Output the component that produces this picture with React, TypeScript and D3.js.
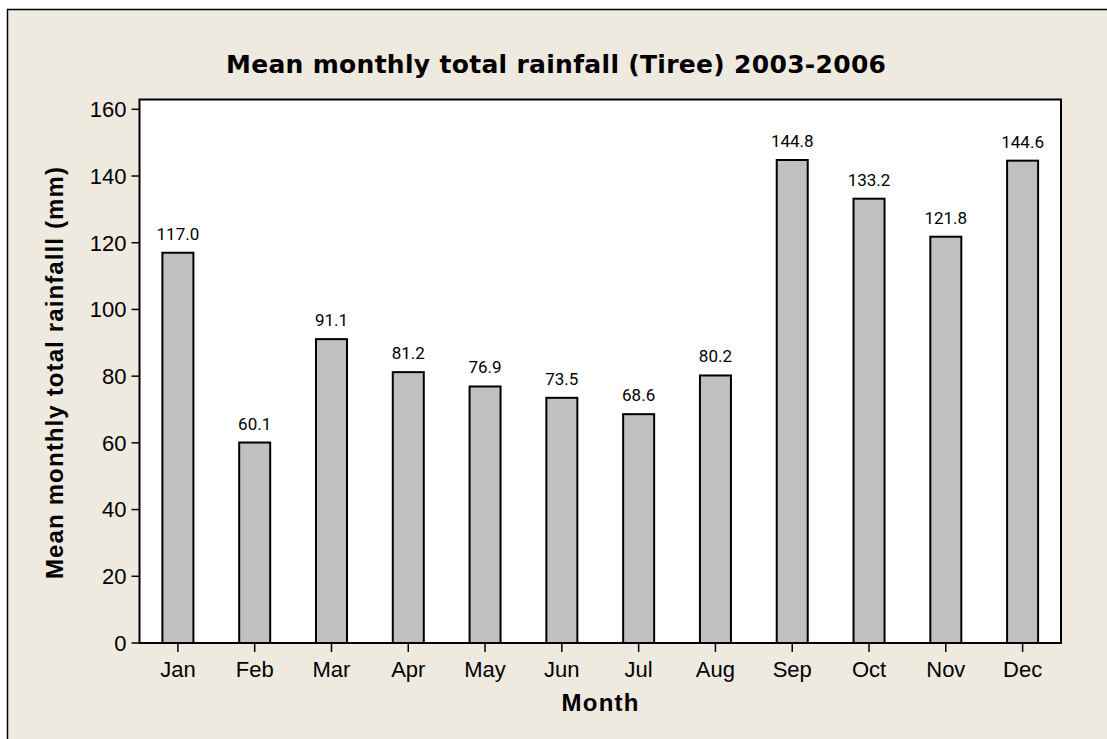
import React from "react";
import * as d3 from "d3";

const months = ["Jan","Feb","Mar","Apr","May","Jun","Jul","Aug","Sep","Oct","Nov","Dec"];
const rainfall = [117.0,60.1,91.1,81.2,76.9,73.5,68.6,80.2,144.8,133.2,121.8,144.6];
const yTicks = [0,20,40,60,80,100,120,140,160];
const title = "Mean monthly total rainfall (Tiree) 2003-2006";
const xTitle = "Month";
const yTitle = "Mean monthly total rainfalll (mm)";

const W = 1107, H = 739;
const plot = { left: 139.5, top: 99.5, right: 1061, bottom: 643 };

export default function App() {
  const x = d3.scaleBand<string>().domain(months).range([plot.left, plot.right]).padding(0);
  const y = d3.scaleLinear().domain([0, 160]).range([plot.bottom, 109.3]);
  const bw = 31;
  const font = "'Liberation Sans', Arial, sans-serif";
  return (
    <svg width={W} height={H} style={{ position: "absolute", left: 0, top: 0 }}>
      <rect x={0} y={0} width={W} height={H} fill="#ffffff" />
      <rect x={7} y={9} width={W} height={H} fill="#EEEAE0" />
      <line x1={7} y1={9.5} x2={W} y2={9.5} stroke="#000" strokeWidth={1.5} />
      <line x1={7.5} y1={9} x2={7.5} y2={H} stroke="#000" strokeWidth={1.5} />
      <text x={556} y={73} textAnchor="middle" fontFamily="'DejaVu Sans', sans-serif" fontWeight="bold" fontSize={25} textLength={660} lengthAdjust="spacing" fill="#000">{title}</text>
      <rect x={plot.left} y={plot.top} width={plot.right - plot.left} height={plot.bottom - plot.top} fill="#fff" stroke="#000" strokeWidth={2} />
      {yTicks.map(t => (
        <g key={t}>
          <line x1={plot.left - 8} x2={plot.left} y1={y(t)} y2={y(t)} stroke="#000" strokeWidth={1.5} />
          <text x={plot.left - 13} y={y(t)} dy="0.36em" textAnchor="end" fontFamily={font} fontSize={22} fill="#000">{t}</text>
        </g>
      ))}
      {months.map((m, i) => {
        const cx = (x(m) as number) + x.bandwidth() / 2;
        const v = rainfall[i];
        return (
          <g key={m}>
            <rect x={cx - bw / 2} y={y(v)} width={bw} height={y(0) - y(v)} fill="#C0C0C0" stroke="#000" strokeWidth={2} />
            <text x={cx} y={y(v) - 13} textAnchor="middle" fontFamily="Roboto, sans-serif" fontSize={17} fill="#000">{v.toFixed(1)}</text>
            <line x1={cx} x2={cx} y1={plot.bottom} y2={plot.bottom + 9} stroke="#000" strokeWidth={1.5} />
            <text x={cx} y={677} textAnchor="middle" fontFamily={font} fontSize={22} fill="#000">{m}</text>
          </g>
        );
      })}
      <text x={600} y={711} textAnchor="middle" fontFamily={font} fontWeight="bold" fontSize={24} textLength={77} lengthAdjust="spacing" fill="#000">{xTitle}</text>
      <text transform={`translate(63,373) rotate(-90)`} textAnchor="middle" fontFamily={font} fontWeight="bold" fontSize={24} textLength={412} lengthAdjust="spacing" fill="#000">{yTitle}</text>
    </svg>
  );
}
